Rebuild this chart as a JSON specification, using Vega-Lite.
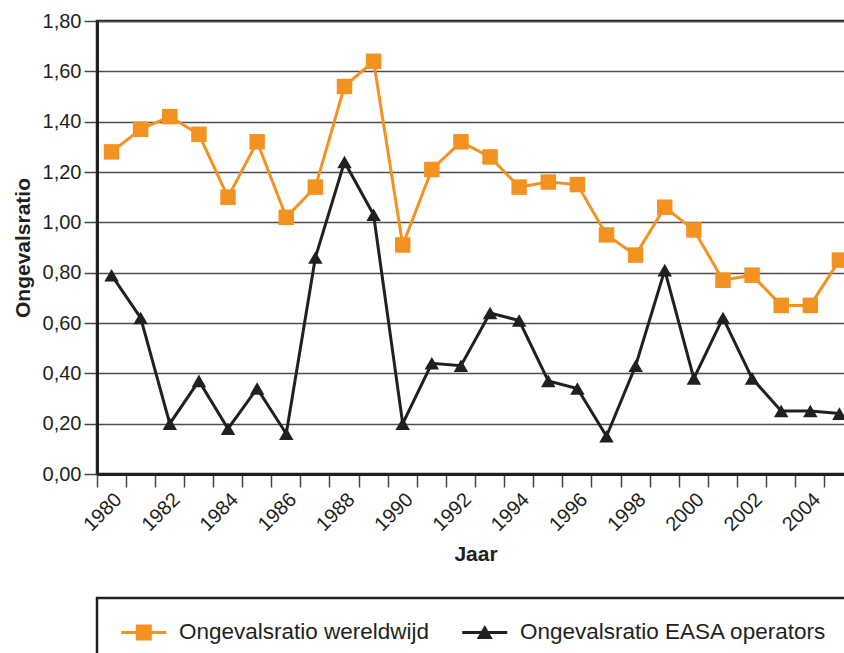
{
  "$schema": "https://vega.github.io/schema/vega-lite/v6.json",
  "width": 757,
  "height": 453,
  "padding": {"left": 12, "top": 11, "right": 0, "bottom": 0},
  "config": {
    "font": "Liberation Sans",
    "view": {"stroke": "#231F20", "strokeWidth": 2.5}
  },
  "data": {
    "values": [
      {"jaar": 1980, "reeks": "Ongevalsratio wereldwijd", "ratio": 1.28},
      {"jaar": 1981, "reeks": "Ongevalsratio wereldwijd", "ratio": 1.37},
      {"jaar": 1982, "reeks": "Ongevalsratio wereldwijd", "ratio": 1.42},
      {"jaar": 1983, "reeks": "Ongevalsratio wereldwijd", "ratio": 1.35},
      {"jaar": 1984, "reeks": "Ongevalsratio wereldwijd", "ratio": 1.10},
      {"jaar": 1985, "reeks": "Ongevalsratio wereldwijd", "ratio": 1.32},
      {"jaar": 1986, "reeks": "Ongevalsratio wereldwijd", "ratio": 1.02},
      {"jaar": 1987, "reeks": "Ongevalsratio wereldwijd", "ratio": 1.14},
      {"jaar": 1988, "reeks": "Ongevalsratio wereldwijd", "ratio": 1.54},
      {"jaar": 1989, "reeks": "Ongevalsratio wereldwijd", "ratio": 1.64},
      {"jaar": 1990, "reeks": "Ongevalsratio wereldwijd", "ratio": 0.91},
      {"jaar": 1991, "reeks": "Ongevalsratio wereldwijd", "ratio": 1.21},
      {"jaar": 1992, "reeks": "Ongevalsratio wereldwijd", "ratio": 1.32},
      {"jaar": 1993, "reeks": "Ongevalsratio wereldwijd", "ratio": 1.26},
      {"jaar": 1994, "reeks": "Ongevalsratio wereldwijd", "ratio": 1.14},
      {"jaar": 1995, "reeks": "Ongevalsratio wereldwijd", "ratio": 1.16},
      {"jaar": 1996, "reeks": "Ongevalsratio wereldwijd", "ratio": 1.15},
      {"jaar": 1997, "reeks": "Ongevalsratio wereldwijd", "ratio": 0.95},
      {"jaar": 1998, "reeks": "Ongevalsratio wereldwijd", "ratio": 0.87},
      {"jaar": 1999, "reeks": "Ongevalsratio wereldwijd", "ratio": 1.06},
      {"jaar": 2000, "reeks": "Ongevalsratio wereldwijd", "ratio": 0.97},
      {"jaar": 2001, "reeks": "Ongevalsratio wereldwijd", "ratio": 0.77},
      {"jaar": 2002, "reeks": "Ongevalsratio wereldwijd", "ratio": 0.79},
      {"jaar": 2003, "reeks": "Ongevalsratio wereldwijd", "ratio": 0.67},
      {"jaar": 2004, "reeks": "Ongevalsratio wereldwijd", "ratio": 0.67},
      {"jaar": 2005, "reeks": "Ongevalsratio wereldwijd", "ratio": 0.85},
      {"jaar": 1980, "reeks": "Ongevalsratio EASA operators", "ratio": 0.79},
      {"jaar": 1981, "reeks": "Ongevalsratio EASA operators", "ratio": 0.62},
      {"jaar": 1982, "reeks": "Ongevalsratio EASA operators", "ratio": 0.20},
      {"jaar": 1983, "reeks": "Ongevalsratio EASA operators", "ratio": 0.37},
      {"jaar": 1984, "reeks": "Ongevalsratio EASA operators", "ratio": 0.18},
      {"jaar": 1985, "reeks": "Ongevalsratio EASA operators", "ratio": 0.34},
      {"jaar": 1986, "reeks": "Ongevalsratio EASA operators", "ratio": 0.16},
      {"jaar": 1987, "reeks": "Ongevalsratio EASA operators", "ratio": 0.86},
      {"jaar": 1988, "reeks": "Ongevalsratio EASA operators", "ratio": 1.24},
      {"jaar": 1989, "reeks": "Ongevalsratio EASA operators", "ratio": 1.03},
      {"jaar": 1990, "reeks": "Ongevalsratio EASA operators", "ratio": 0.20},
      {"jaar": 1991, "reeks": "Ongevalsratio EASA operators", "ratio": 0.44},
      {"jaar": 1992, "reeks": "Ongevalsratio EASA operators", "ratio": 0.43},
      {"jaar": 1993, "reeks": "Ongevalsratio EASA operators", "ratio": 0.64},
      {"jaar": 1994, "reeks": "Ongevalsratio EASA operators", "ratio": 0.61},
      {"jaar": 1995, "reeks": "Ongevalsratio EASA operators", "ratio": 0.37},
      {"jaar": 1996, "reeks": "Ongevalsratio EASA operators", "ratio": 0.34},
      {"jaar": 1997, "reeks": "Ongevalsratio EASA operators", "ratio": 0.15},
      {"jaar": 1998, "reeks": "Ongevalsratio EASA operators", "ratio": 0.43},
      {"jaar": 1999, "reeks": "Ongevalsratio EASA operators", "ratio": 0.81},
      {"jaar": 2000, "reeks": "Ongevalsratio EASA operators", "ratio": 0.38},
      {"jaar": 2001, "reeks": "Ongevalsratio EASA operators", "ratio": 0.62},
      {"jaar": 2002, "reeks": "Ongevalsratio EASA operators", "ratio": 0.38},
      {"jaar": 2003, "reeks": "Ongevalsratio EASA operators", "ratio": 0.25},
      {"jaar": 2004, "reeks": "Ongevalsratio EASA operators", "ratio": 0.25},
      {"jaar": 2005, "reeks": "Ongevalsratio EASA operators", "ratio": 0.24}
    ]
  },
  "encoding": {
    "x": {
      "field": "jaar",
      "type": "ordinal",
      "scale": {"type": "band", "paddingInner": 0, "paddingOuter": 0},
      "axis": {
        "title": "Jaar",
        "titleFontSize": 21,
        "titleFontWeight": "bold",
        "titleColor": "#231F20",
        "titlePadding": 9,
        "labelAngle": -45,
        "labelFontSize": 20,
        "labelColor": "#231F20",
        "labelPadding": 2,
        "labelOverlap": false,
        "labelExpr": "datum.value % 2 == 0 ? datum.label : ''",
        "bandPosition": 0,
        "labelOffset": 0,
        "tickSize": 13,
        "tickColor": "#444444",
        "tickWidth": 1.5,
        "domainColor": "#231F20",
        "domainWidth": 3,
        "grid": false
      }
    },
    "y": {
      "field": "ratio",
      "type": "quantitative",
      "scale": {"domain": [0, 1.8], "nice": false},
      "axis": {
        "title": "Ongevalsratio",
        "titleFontSize": 21,
        "titleFontWeight": "bold",
        "titleColor": "#231F20",
        "titlePadding": 9,
        "values": [0, 0.2, 0.4, 0.6, 0.8, 1.0, 1.2, 1.4, 1.6, 1.8],
        "labelExpr": "replace(format(datum.value, '.2f'), '.', ',')",
        "labelFontSize": 20,
        "labelColor": "#231F20",
        "labelPadding": 3,
        "tickSize": 13,
        "tickColor": "#444444",
        "tickWidth": 1.5,
        "domainColor": "#231F20",
        "domainWidth": 3,
        "grid": true,
        "gridColor": "#4d4d4d",
        "gridWidth": 1.5
      }
    }
  },
  "layer": [
    {
      "transform": [{"filter": "datum.reeks == 'Ongevalsratio EASA operators'"}],
      "mark": {"type": "line", "strokeWidth": 3, "color": "#231F20"},
      "encoding": {}
    },
    {
      "transform": [{"filter": "datum.reeks == 'Ongevalsratio wereldwijd'"}],
      "mark": {"type": "line", "strokeWidth": 3, "color": "#F39220"},
      "encoding": {}
    },
    {
      "transform": [{"filter": "datum.reeks == 'Ongevalsratio wereldwijd'"}],
      "mark": {"type": "point", "shape": "square", "filled": true, "size": 240, "color": "#F39220", "opacity": 1},
      "encoding": {}
    },
    {
      "transform": [{"filter": "datum.reeks == 'Ongevalsratio EASA operators'"}],
      "mark": {"type": "point", "shape": "triangle-up", "filled": true, "size": 210, "color": "#231F20", "opacity": 1},
      "encoding": {}
    },
    {
      "mark": {"type": "point", "filled": true, "opacity": 0},
      "encoding": {
        "color": {
          "field": "reeks",
          "type": "nominal",
          "scale": {"domain": ["Ongevalsratio wereldwijd", "Ongevalsratio EASA operators"], "range": ["#F39220", "#231F20"]},
          "legend": {
            "orient": "none",
            "legendX": 0,
            "legendY": 577,
            "direction": "horizontal",
            "title": null,
            "padding": 23,
            "strokeColor": "#231F20",
            "symbolSize": 400,
            "symbolStrokeWidth": 0,
            "symbolOpacity": 1,
            "symbolOffset": 12.5,
            "labelFontSize": 22.5,
            "labelColor": "#231F20",
            "labelLimit": 500,
            "labelOffset": 24,
            "columnPadding": 31,
            "encode": {"legend": {"update": {"strokeWidth": {"value": 2.5}}}}
          }
        },
        "shape": {
          "field": "reeks",
          "type": "nominal",
          "scale": {
            "domain": ["Ongevalsratio wereldwijd", "Ongevalsratio EASA operators"],
            "range": [
              "M-2.25,-0.15H2.25V0.15H-2.25Z M-0.8,-0.8H0.8V0.8H-0.8Z",
              "M-2.25,-0.15H2.25V0.15H-2.25Z M0,-0.75L0.8,0.65H-0.8Z"
            ]
          },
          "legend": {
            "orient": "none",
            "legendX": 0,
            "legendY": 577,
            "direction": "horizontal",
            "title": null,
            "padding": 23,
            "strokeColor": "#231F20",
            "symbolSize": 400,
            "symbolStrokeWidth": 0,
            "symbolOpacity": 1,
            "symbolOffset": 12.5,
            "labelFontSize": 22.5,
            "labelColor": "#231F20",
            "labelLimit": 500,
            "labelOffset": 24,
            "columnPadding": 31,
            "encode": {"legend": {"update": {"strokeWidth": {"value": 2.5}}}}
          }
        }
      }
    }
  ]
}
